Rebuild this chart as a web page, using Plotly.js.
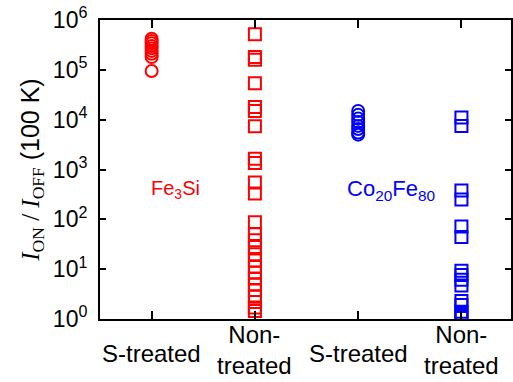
<!DOCTYPE html>
<html><head><meta charset="utf-8">
<script src="https://cdn.plot.ly/plotly-3.0.1.min.js"></script>
<style>body{margin:0;padding:0;background:#fff}#chart{width:513px;height:382px}</style>
</head><body><div id="chart"></div>
<script>
// Group labels (x axis)
const groupLabels = ["S-treated", "Non-<br>treated", "S-treated", "Non-<br>treated"];
const groupPos = [1, 2, 3, 4];

// I_ON / I_OFF values (100 K)
const fe3siSTreated = [4.2e5, 3.8e5, 3.4e5, 3.0e5, 2.7e5, 2.4e5, 2.1e5, 1.8e5, 9.5e4];
const fe3siNonTreated = [5.2e5, 1.8e5, 1.6e5, 5.4e4, 1.8e4, 1.5e4, 7.4e3, 1.65e3, 1.35e3, 550, 330,
  87, 51, 38, 28, 20, 15, 11, 8.5, 6.5, 5, 3.8, 2.8, 2.2, 1.7, 1.45];
const cofeSTreated = [1.5e4, 1.25e4, 1.05e4, 9e3, 7.5e3, 6.5e3, 5.5e3, 5e3];
const cofeNonTreated = [1.1e4, 7.5e3, 380, 250, 72, 44, 9.3, 7.6, 6.1, 4.7, 2.3, 1.9, 1.4, 1.2, 1.05];

const yTickVals = [1, 10, 100, 1000, 1e4, 1e5, 1e6];
const yTickText = ["10<sup>0</sup>","10<sup>1</sup>","10<sup>2</sup>","10<sup>3</sup>","10<sup>4</sup>","10<sup>5</sup>","10<sup>6</sup>"];

function tr(vals, pos, sym, color) {
  return {
    x: vals.map(() => pos), y: vals, type: "scatter", mode: "markers",
    marker: {symbol: sym, size: 12, color: color, line: {color: color, width: 2}},
    showlegend: false, hoverinfo: "y"
  };
}
const red = "#ff0000", blue = "#0000ff";
const data = [
  tr(fe3siSTreated, groupPos[0], "circle-open", red),
  tr(fe3siNonTreated, groupPos[1], "square-open", red),
  tr(cofeSTreated, groupPos[2], "circle-open", blue),
  tr(cofeNonTreated, groupPos[3], "square-open", blue)
];

const sans = "Liberation Sans, Arial, sans-serif";
const font = {family: sans, size: 23, color: "#000"};
const groupAnn = groupLabels.map((t, i) => ({
  x: groupPos[i], xref: "x", y: t.indexOf("<br>") >= 0 ? -0.105 : -0.114, yref: "paper",
  xanchor: "center", yanchor: "middle", text: t, showarrow: false,
  font: {family: sans, size: 24, color: "#000"}
}));
const layout = {
  width: 513, height: 382,
  margin: {l: 100, r: 2, t: 20, b: 63},
  paper_bgcolor: "#fff", plot_bgcolor: "#fff",
  font: font,
  xaxis: {
    range: [0.5, 4.48], tickvals: groupPos, showticklabels: false,
    ticks: "inside", ticklen: 8, tickwidth: 2, tickcolor: "#000",
    showline: true, linecolor: "#000", linewidth: 2, mirror: "allticks",
    showgrid: false, zeroline: false
  },
  yaxis: {
    type: "log", range: [0, 6], tickvals: yTickVals, ticktext: yTickText,
    ticks: "inside", ticklen: 6, tickwidth: 2, tickcolor: "#000",
    showline: true, linecolor: "#000", linewidth: 2, mirror: "allticks",
    showgrid: false, zeroline: false, tickfont: font, ticklabelstandoff: 6,
    title: {
      text: "<span style='font-family:Liberation Serif'><i>I</i><sub>ON</sub> / <i>I</i><sub>OFF</sub></span> (100 K)",
      font: {family: sans, size: 25, color: "#000"},
      standoff: 6
    }
  },
  annotations: groupAnn.concat([
    {x: 1.23, y: 2.59, xref: "x", yref: "y", text: "Fe<sub>3</sub>Si", showarrow: false,
     font: {family: sans, size: 20, color: red}},
    {x: 3.32, y: 2.59, xref: "x", yref: "y", text: "Co<sub>20</sub>Fe<sub>80</sub>", showarrow: false,
     font: {family: sans, size: 22, color: blue}}
  ])
};
Plotly.newPlot("chart", data, layout, {displayModeBar: false, staticPlot: true});
</script></body></html>
